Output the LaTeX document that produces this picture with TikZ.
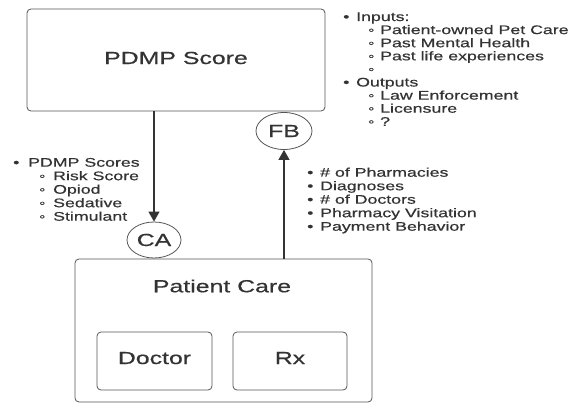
\documentclass[tikz,border=0pt]{standalone}
\usepackage{fontspec}
\setmainfont{Liberation Sans}[FakeStretch=1.42,FakeBold=0.6]
\usetikzlibrary{shapes.geometric,arrows.meta}
\definecolor{ink}{HTML}{333333}
\definecolor{edgec}{HTML}{555555}
\newcommand\mbul{\makebox[13pt][l]{•}}
\newcommand\sbul{\makebox[12pt][l]{◦}}
\begin{document}
\begin{tikzpicture}[x=1pt,y=-1pt,
 box/.style={draw=edgec,line width=0.8pt,rounded corners=4pt,inner sep=0},
 circ/.style={draw=edgec,line width=0.8pt,ellipse,inner sep=0,fill=white,text=ink,font=\fontsize{17.5}{20}\selectfont},
 big/.style={font=\fontsize{17.5}{20}\selectfont,text=ink,inner sep=0},
 lst/.style={font=\fontsize{12.5}{14}\selectfont,text=ink,inner sep=0,anchor=base west},
 arr/.style={draw=ink,line width=1.1pt,-{Triangle[length=10pt,width=11pt]}}]
\useasboundingbox (0,0) rectangle (571,404);
% boxes
\node[box,minimum width=298pt,minimum height=102pt] (pdmp) at (176,60) {};
\node[big] (pdmpt) at (176,58) {PDMP Score};
\node[box,minimum width=297pt,minimum height=143pt] (pc) at (223.5,330.5) {};
\node[big] (pct) at (222,286) {Patient Care};
\node[box,big,text depth=6pt,minimum width=115pt,minimum height=58pt] (doc) at (154.5,361) {Doctor};
\node[box,big,text depth=6pt,minimum width=114pt,minimum height=58pt] (rx) at (290,361) {Rx};
% circles
\node[circ,minimum width=54pt,minimum height=36pt] (ca) at (154,240) {CA};
\node[circ,minimum width=56pt,minimum height=37pt] (fb) at (284,131) {FB};
% arrows
\draw[arr] (pdmp.south -| ca.north) -- (ca.north);
\draw[arr] (pc.north -| fb.south) -- (fb.south);
% inputs / outputs list
\node[lst] (i1) at (343,21) {\mbul Inputs:};
\node[lst] (i2) at (368,34.1) {\sbul Patient-owned Pet Care};
\node[lst] (i3) at (368,47.2) {\sbul Past Mental Health};
\node[lst] (i4) at (368,60.3) {\sbul Past life experiences};
\node[lst] (i5) at (368,73.4) {\sbul};
\node[lst] (i6) at (343,86.5) {\mbul Outputs};
\node[lst] (i7) at (368,99.6) {\sbul Law Enforcement};
\node[lst] (i8) at (368,112.7) {\sbul Licensure};
\node[lst] (i9) at (368,125.8) {\sbul ?};
% left list
\node[lst] (s1) at (13,166.7) {\makebox[15pt][l]{•}PDMP Scores};
\node[lst] (s2) at (39,180.2) {\makebox[14pt][l]{◦}Risk Score};
\node[lst] (s3) at (39,193.7) {\makebox[14pt][l]{◦}Opiod};
\node[lst] (s4) at (39,207.2) {\makebox[14pt][l]{◦}Sedative};
\node[lst] (s5) at (39,220.7) {\makebox[14pt][l]{◦}Stimulant};
% middle list
\node[lst] (m1) at (307,176.7) {\mbul\# of Pharmacies};
\node[lst] (m2) at (307,190.2) {\mbul Diagnoses};
\node[lst] (m3) at (307,203.7) {\mbul\# of Doctors};
\node[lst] (m4) at (307,217.2) {\mbul Pharmacy Visitation};
\node[lst] (m5) at (307,230.7) {\mbul Payment Behavior};
\end{tikzpicture}
\end{document}
